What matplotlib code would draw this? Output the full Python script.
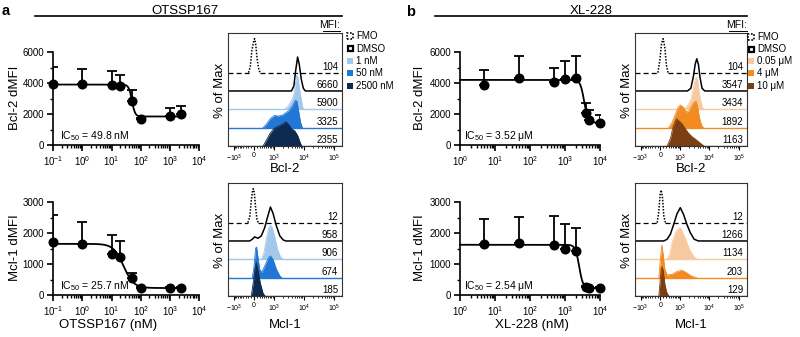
import numpy as np
import matplotlib
matplotlib.use('Agg')
import matplotlib.pyplot as plt
from matplotlib.patches import Rectangle
from matplotlib.lines import Line2D
from matplotlib.ticker import LogLocator, NullFormatter, MultipleLocator
import matplotlib.transforms as mtransforms

plt.rcParams['font.family'] = ['Liberation Sans', 'DejaVu Sans']
plt.rcParams['mathtext.fontset'] = 'custom'
plt.rcParams['mathtext.rm'] = 'Liberation Sans'
plt.rcParams['mathtext.it'] = 'Liberation Sans:italic'
plt.rcParams['mathtext.bf'] = 'Liberation Sans:bold'
plt.rcParams['axes.unicode_minus'] = False

# ---------------- dose-response data ----------------
ots_conc = [0.1, 1, 10, 20, 50, 100, 1000, 2500]            # nM
ots_bcl2 = [3950, 3950, 3850, 3800, 2830, 1700, 1890, 1970]
ots_bcl2_err = [1080, 980, 910, 700, 700, 60, 510, 540]
ots_mcl1 = [1710, 1640, 1320, 1210, 540, 215, 235, 235]
ots_mcl1_err = [860, 720, 610, 530, 180, 30, 30, 30]
ots_bcl2_fit = dict(top=3900, bottom=1840, ic50=49.8, hill=8)
ots_mcl1_fit = dict(top=1650, bottom=225, ic50=25.7, hill=2.5)

xl_conc = [5, 50, 500, 1000, 2000, 4000, 5000, 10000]        # nM
xl_bcl2 = [3860, 4350, 4050, 4240, 4300, 2040, 1610, 1440]
xl_bcl2_err = [960, 1400, 920, 1160, 1450, 680, 640, 500]
xl_mcl1 = [1660, 1680, 1610, 1480, 1410, 250, 215, 225]
xl_mcl1_err = [800, 840, 930, 820, 750, 30, 30, 30]
xl_bcl2_fit = dict(top=4200, bottom=1450, ic50=3520, hill=8)
xl_mcl1_fit = dict(top=1620, bottom=225, ic50=2540, hill=8)

# ---------------- flow histograms (fluorescence, % of max) ----------------
a_bcl2_fmo_x = [-190, -129, -70, 0, 23, 58, 117, 178, 229]
a_bcl2_fmo_y = [0, 17, 66, 97, 100, 85, 36, 7, 0]
a_bcl2_dmso_x = [3930, 4740, 5390, 6280, 7140, 8330, 9710, 11300]
a_bcl2_dmso_y = [0, 15, 59, 100, 78, 34, 8, 0]
a_bcl2_1_x = [2360, 3060, 3930, 4740, 5390, 5800, 6440, 7320, 8330, 9210, 10200]
a_bcl2_1_y = [0, 10, 25, 44, 78, 100, 94, 59, 29, 7, 0]
a_bcl2_50_x = [340, 493, 728, 1056, 1390, 1960, 2545, 3300, 4270, 5250, 5960, 6780, 7900, 9000]
a_bcl2_50_y = [0, 10, 27, 36, 34, 37, 44, 51, 64, 80, 78, 49, 15, 0]
a_bcl2_2500_x = [340, 493, 687, 970, 1390, 1960, 2545, 3140, 3930, 5120, 6280, 7520, 8550]
a_bcl2_2500_y = [0, 17, 36, 51, 58, 64, 71, 64, 51, 44, 31, 12, 0]

a_mcl1_fmo_x = [-216, -151, -93, -47, -23, 12, 58, 105, 153]
a_mcl1_fmo_y = [0, 15, 64, 95, 100, 88, 44, 10, 0]
a_mcl1_dmso_x = [-151, -58, 23, 141, 267, 413, 549, 728, 910, 1210, 1590, 2070, 2545]
a_mcl1_dmso_y = [0, 5, 12, 8, 15, 39, 69, 100, 82, 44, 15, 3, 0]
a_mcl1_1_x = [267, 382, 493, 625, 728, 866, 1056, 1316, 1675, 2070]
a_mcl1_1_y = [0, 20, 61, 92, 100, 93, 66, 30, 7, 0]
a_mcl1_50_x = [-58, 0, 58, 93, 141, 203, 280, 413, 586, 728, 910, 1210, 1590, 1860]
a_mcl1_50_y = [0, 30, 87, 90, 59, 25, 15, 34, 57, 64, 54, 25, 5, 0]
a_mcl1_2500_x = [-93, -12, 47, 82, 141, 229, 340, 430]
a_mcl1_2500_y = [0, 47, 86, 98, 76, 37, 8, 0]

b_bcl2_fmo_x = [-93, -23, 35, 93, 153, 215, 280]
b_bcl2_fmo_y = [0, 36, 85, 100, 75, 22, 0]
b_bcl2_dmso_x = [1814, 2360, 2900, 3300, 3750, 4270, 4855, 5650, 6960]
b_bcl2_dmso_y = [0, 8, 44, 78, 95, 78, 39, 8, 0]
b_bcl2_005_x = [1316, 1630, 1960, 2360, 2900, 3300, 3660, 4060, 4620, 5390, 6280]
b_bcl2_005_y = [0, 7, 15, 29, 64, 88, 95, 83, 44, 15, 0]
b_bcl2_4_x = [309, 460, 644, 820, 1000, 1250, 1630, 2010, 2545, 3140, 3570, 4060, 4620, 5390, 6280]
b_bcl2_4_y = [0, 15, 39, 59, 67, 61, 46, 49, 64, 76, 78, 59, 29, 8, 0]
b_bcl2_10_x = [241, 382, 513, 708, 866, 1146, 1505, 1960, 2545, 3750, 4855, 6600]
b_bcl2_10_y = [0, 22, 56, 80, 75, 66, 51, 38, 28, 17, 9, 0]

b_mcl1_fmo_x = [-117, -58, -12, 23, 70, 117, 178]
b_mcl1_fmo_y = [0, 34, 83, 96, 74, 20, 0]
b_mcl1_dmso_x = [117, 241, 382, 549, 750, 1000, 1316, 1718, 2237, 3060, 4266]
b_mcl1_dmso_y = [0, 5, 20, 49, 80, 98, 78, 49, 25, 5, 0]
b_mcl1_005_x = [241, 350, 460, 644, 866, 1000, 1250, 1630, 2237, 3060, 3930]
b_mcl1_005_y = [0, 15, 49, 78, 91, 93, 78, 54, 25, 7, 0]
b_mcl1_4_x = [-58, 0, 47, 93, 153, 241, 460, 750, 1146, 1630, 2545, 3750]
b_mcl1_4_y = [0, 59, 96, 69, 25, 8, 10, 18, 22, 15, 4, 0]
b_mcl1_10_x = [-58, 0, 47, 93, 153, 215, 309]
b_mcl1_10_y = [0, 57, 86, 76, 37, 13, 0]

a_bcl2_mfi = ['104', '6660', '5900', '3325', '2355']
a_mcl1_mfi = ['12', '958', '906', '674', '185']
b_bcl2_mfi = ['104', '3547', '3434', '1892', '1163']
b_mcl1_mfi = ['12', '1266', '1134', '203', '129']

a_legend = ['FMO', 'DMSO', '1 nM', '50 nM', '2500 nM']
b_legend = ['FMO', 'DMSO', '0.05 μM', '4 μM', '10 μM']
a_colors = ['#a3c8ec', '#2176d6', '#0f2a50']
b_colors = ['#f7c9a0', '#f28b22', '#7b3f12']

# ---------------- figure helpers ----------------
W, H = 800, 337
fig = plt.figure(figsize=(W / 100, H / 100), dpi=100)


def frect(l, t, r, b):
    return [l / W, 1 - b / H, (r - l) / W, (b - t) / H]


def fx(x):
    return x / W


def fy(y):
    return 1 - y / H


def ftext(x, y, s, **kw):
    fig.text(fx(x), fy(y), s, **kw)


def fline(x0, x1, y0, y1=None, **kw):
    if y1 is None:
        y1 = y0
    fig.add_artist(Line2D([fx(x0), fx(x1)], [fy(y0), fy(y1)], transform=fig.transFigure, **kw))


def dose_panel(box, conc, vals, errs, fit, xlim, ymax, ystep):
    ax = fig.add_axes(frect(*box))
    ax.set_xscale('log')
    ax.set_xlim(*xlim)
    ax.set_ylim(0, ymax)
    xs = np.logspace(np.log10(xlim[0]), np.log10(max(conc)), 400)
    ys = fit['bottom'] + (fit['top'] - fit['bottom']) / (1 + (xs / fit['ic50']) ** fit['hill'])
    ax.plot(xs, ys, color='k', lw=1.3, zorder=2, clip_on=False)
    ax.errorbar(conc, vals, yerr=[np.zeros(len(errs)), errs], fmt='none', ecolor='k',
                elinewidth=1.3, capsize=3.5, capthick=1.3, zorder=3)
    ax.plot(conc, vals, 'o', color='k', ms=6.2, zorder=4, clip_on=False)
    for s in ['top', 'right']:
        ax.spines[s].set_visible(False)
    for s in ['left', 'bottom']:
        ax.spines[s].set_linewidth(1.2)
    ax.set_yticks(np.arange(0, ymax + 1, ystep))
    ax.yaxis.set_minor_locator(MultipleLocator(ystep / 2))
    ax.xaxis.set_major_locator(LogLocator(base=10, numticks=20))
    ax.xaxis.set_minor_locator(LogLocator(base=10, subs=np.arange(2, 10), numticks=20))
    ax.xaxis.set_minor_formatter(NullFormatter())
    ax.tick_params(which='major', length=4, width=1.2, labelsize=7, pad=2.5)
    ax.tick_params(which='minor', length=2.2, width=1.0)
    return ax


def fwd(x):
    return np.arcsinh(np.asarray(x, float) / 452.0)


def inv(y):
    return 452.0 * np.sinh(np.asarray(y, float))


SC = 1.85  # rows per 100 % of max


def hist_panel(box, curves, colors, mfi):
    ax = fig.add_axes(frect(*box))
    ax.set_xscale('function', functions=(fwd, inv))
    xmin, xmax = -1600, 1.85e5
    ax.set_xlim(xmin, xmax)
    ax.set_ylim(0, 6.16)
    blend = mtransforms.blended_transform_factory(ax.transAxes, ax.transData)
    n = len(curves)
    for i, (cx, cy) in enumerate(curves):
        row = n - 1 - i
        cx = np.asarray(cx, float)
        cy = row + np.asarray(cy, float) / 100.0 * SC
        z = 5 + i
        if i == 0:
            ax.plot([xmin, cx[0]], [row, row], color='k', lw=0.9, dashes=(4, 2.5), zorder=z)
            ax.plot([cx[-1], xmax], [row, row], color='k', lw=0.9, dashes=(4, 2.5), zorder=z)
            ax.plot(cx, cy, color='k', lw=1.1, ls=(0, (1, 1)), zorder=z)
        elif i == 1:
            ax.plot(np.r_[xmin, cx, xmax], np.r_[row, cy, row], color='k', lw=1.1, zorder=z)
        else:
            c = colors[i - 2]
            ax.fill_between(cx, row, cy, color=c, lw=0, zorder=z)
            ax.plot(cx, cy, color=c, lw=0.6, zorder=z)
            ax.plot([xmin, xmax], [row, row], color=c, lw=1.0, zorder=z)
        ax.text(0.965, row + 0.06, mfi[i], transform=blend, ha='right', va='bottom',
                fontsize=7, zorder=20)
    ax.set_yticks([])
    ax.set_xticks([-1000, 0, 1000, 1e4, 1e5])
    ax.set_xticklabels([r'$\mathregular{-10^3}$', '0', r'$\mathregular{10^3}$',
                        r'$\mathregular{10^4}$', r'$\mathregular{10^5}$'])
    minors = ([-v for v in range(100, 1000, 100)] + list(range(100, 1000, 100)) +
              list(range(2000, 10000, 1000)) + list(range(20000, 100000, 10000)))
    ax.set_xticks(minors, minor=True)
    ax.tick_params(axis='x', which='major', length=3, width=0.8, labelsize=5, pad=1.5)
    ax.tick_params(axis='x', which='minor', length=1.6, width=0.6)
    for sp in ax.spines.values():
        sp.set_linewidth(0.8)
        sp.set_color('#333333')
        sp.set_zorder(30)
    return ax


def legend_block(xsq, rows, labels, colors):
    for k, (yy, lab) in enumerate(zip(rows, labels)):
        if k == 0:
            r = Rectangle((fx(xsq), fy(yy + 3)), 6 / W, 6 / H, transform=fig.transFigure,
                          facecolor='white', edgecolor='k', lw=1.2, ls=(0, (1, 1)))
        elif k == 1:
            r = Rectangle((fx(xsq + 0.5), fy(yy + 2.5)), 5 / W, 5 / H, transform=fig.transFigure,
                          facecolor='white', edgecolor='k', lw=1.6)
        else:
            r = Rectangle((fx(xsq), fy(yy + 3)), 6 / W, 6 / H, transform=fig.transFigure,
                          facecolor=colors[k - 2], edgecolor='none')
        fig.add_artist(r)
        ftext(xsq + 9, yy, lab, ha='left', va='center', fontsize=7)


# ---------------- panel a ----------------
ftext(2, 11, 'a', fontsize=10.5, fontweight='bold', ha='left', va='center')
ftext(185, 13.5, 'OTSSP167', ha='center', va='baseline', fontsize=9.5)
fline(35, 342, 15.5, color='k', lw=1.2)

dose_panel((53.3, 52, 199, 145), ots_conc, ots_bcl2, ots_bcl2_err, ots_bcl2_fit, (0.1, 1e4), 6000, 2000)
dose_panel((53.3, 202, 199, 295), ots_conc, ots_mcl1, ots_mcl1_err, ots_mcl1_fit, (0.1, 1e4), 3000, 1000)
ftext(15, 98, 'Bcl-2 dMFI', rotation=90, ha='center', va='center', fontsize=9.5)
ftext(15, 248, 'Mcl-1 dMFI', rotation=90, ha='center', va='center', fontsize=9.5)
ftext(60, 136, r'IC$_{50}$ = 49.8 nM', ha='left', va='center', fontsize=7.5)
ftext(60, 286, r'IC$_{50}$ = 25.7 nM', ha='left', va='center', fontsize=7.5)
ftext(108, 325, 'OTSSP167 (nM)', ha='center', va='center', fontsize=9.5)

hist_panel((228, 33, 342, 146),
           [(a_bcl2_fmo_x, a_bcl2_fmo_y), (a_bcl2_dmso_x, a_bcl2_dmso_y), (a_bcl2_1_x, a_bcl2_1_y),
            (a_bcl2_50_x, a_bcl2_50_y), (a_bcl2_2500_x, a_bcl2_2500_y)], a_colors, a_bcl2_mfi)
hist_panel((228, 183, 342, 296),
           [(a_mcl1_fmo_x, a_mcl1_fmo_y), (a_mcl1_dmso_x, a_mcl1_dmso_y), (a_mcl1_1_x, a_mcl1_1_y),
            (a_mcl1_50_x, a_mcl1_50_y), (a_mcl1_2500_x, a_mcl1_2500_y)], a_colors, a_mcl1_mfi)
ftext(220, 90, '% of Max', rotation=90, ha='center', va='center', fontsize=9.5)
ftext(220, 240, '% of Max', rotation=90, ha='center', va='center', fontsize=9.5)
ftext(285, 169, 'Bcl-2', ha='center', va='center', fontsize=9.5)
ftext(285, 325, 'Mcl-1', ha='center', va='center', fontsize=9.5)
ftext(340, 25, 'MFI:', ha='right', va='center', fontsize=7.5)
fline(323, 340, 30.5, color='k', lw=0.7)
legend_block(347, [36, 48.5, 61, 73, 86], a_legend, a_colors)

# ---------------- panel b ----------------
ftext(406, 12, 'b', fontsize=10.5, fontweight='bold', ha='left', va='center')
ftext(591, 13.5, 'XL-228', ha='center', va='baseline', fontsize=9.5)
fline(435, 747, 15.5, color='k', lw=1.2)

dose_panel((460, 52, 600, 145), xl_conc, xl_bcl2, xl_bcl2_err, xl_bcl2_fit, (1, 1e4), 6000, 2000)
dose_panel((460, 202, 600, 295), xl_conc, xl_mcl1, xl_mcl1_err, xl_mcl1_fit, (1, 1e4), 3000, 1000)
ftext(420, 98, 'Bcl-2 dMFI', rotation=90, ha='center', va='center', fontsize=9.5)
ftext(420, 248, 'Mcl-1 dMFI', rotation=90, ha='center', va='center', fontsize=9.5)
ftext(464, 136, r'IC$_{50}$ = 3.52 μM', ha='left', va='center', fontsize=7.5)
ftext(464, 286, r'IC$_{50}$ = 2.54 μM', ha='left', va='center', fontsize=7.5)
ftext(532, 325, 'XL-228 (nM)', ha='center', va='center', fontsize=9.5)

hist_panel((635, 33, 747, 146),
           [(b_bcl2_fmo_x, b_bcl2_fmo_y), (b_bcl2_dmso_x, b_bcl2_dmso_y), (b_bcl2_005_x, b_bcl2_005_y),
            (b_bcl2_4_x, b_bcl2_4_y), (b_bcl2_10_x, b_bcl2_10_y)], b_colors, b_bcl2_mfi)
hist_panel((635, 183, 747, 296),
           [(b_mcl1_fmo_x, b_mcl1_fmo_y), (b_mcl1_dmso_x, b_mcl1_dmso_y), (b_mcl1_005_x, b_mcl1_005_y),
            (b_mcl1_4_x, b_mcl1_4_y), (b_mcl1_10_x, b_mcl1_10_y)], b_colors, b_mcl1_mfi)
ftext(627, 90, '% of Max', rotation=90, ha='center', va='center', fontsize=9.5)
ftext(627, 240, '% of Max', rotation=90, ha='center', va='center', fontsize=9.5)
ftext(691, 169, 'Bcl-2', ha='center', va='center', fontsize=9.5)
ftext(691, 325, 'Mcl-1', ha='center', va='center', fontsize=9.5)
ftext(747, 25, 'MFI:', ha='right', va='center', fontsize=7.5)
fline(729, 747, 30.5, color='k', lw=0.7)
legend_block(748, [37, 49, 61, 73, 86], b_legend, b_colors)

fig.savefig('out.png', dpi=100)
